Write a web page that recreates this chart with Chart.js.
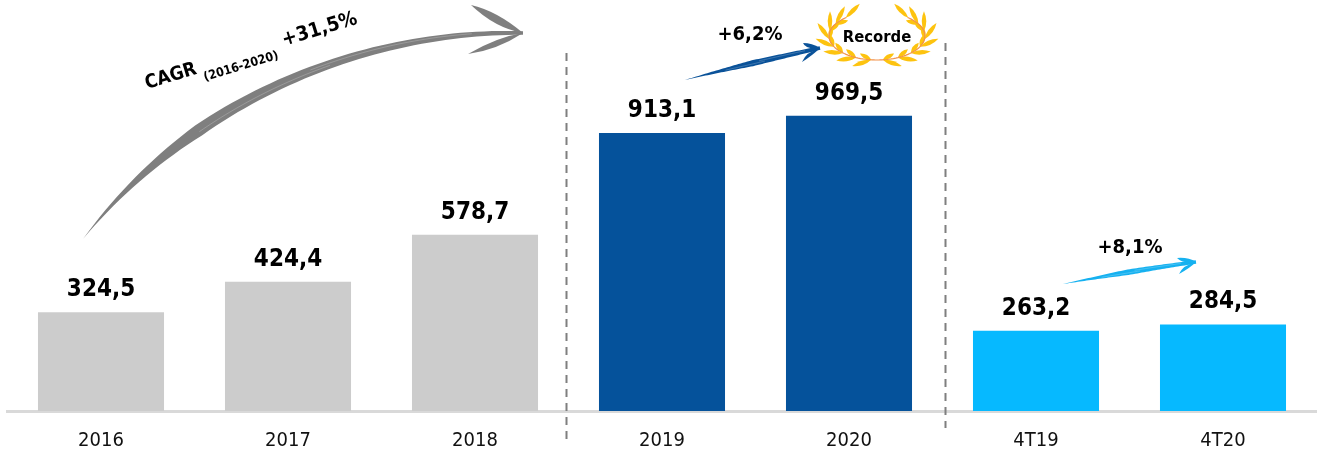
<!DOCTYPE html>
<html>
<head>
<meta charset="utf-8">
<style>
  html, body { margin: 0; padding: 0; background: #fff; }
  #wrap { width: 1320px; height: 455px; }
</style>
<script src="https://cdn.jsdelivr.net/npm/chart.js@4"></script>
</head>
<body>
<div id="wrap"><canvas id="chart" width="1320" height="455"></canvas></div>
<script>
var categories = ["2016", "2017", "2018", "2019", "2020", "4T19", "4T20"];
var values = [324.5, 424.4, 578.7, 913.1, 969.5, 263.2, 284.5];
var barColors = ["#cccccc", "#cccccc", "#cccccc", "#05529b", "#05529b", "#06b9ff", "#06b9ff"];

var labelFont = '"DejaVu Sans Condensed", "DejaVu Sans", sans-serif';

function fmt(v) {
  return v.toFixed(1).replace(".", ",");
}

// value labels above the bars
var valueLabels = {
  id: "valueLabels",
  afterDatasetsDraw: function (chart) {
    var ctx = chart.ctx;
    var bars = chart.getDatasetMeta(0).data;
    ctx.save();
    ctx.fillStyle = "#000";
    ctx.font = "bold 24px " + labelFont;
    ctx.textAlign = "center";
    ctx.textBaseline = "alphabetic";
    bars.forEach(function (bar, i) {
      ctx.fillText(fmt(values[i]), bar.x, bar.y - 16);
    });
    ctx.restore();
  },
};

// tapered brush stroke along a cubic curve, with light streaks
function brushArrow(ctx, p, w, peak, end, color, barbs) {
  function pt(t) {
    var u = 1 - t;
    return [
      u * u * u * p[0] + 3 * u * u * t * p[2] + 3 * u * t * t * p[4] + t * t * t * p[6],
      u * u * u * p[1] + 3 * u * u * t * p[3] + 3 * u * t * t * p[5] + t * t * t * p[7],
    ];
  }
  function hw(t) {
    if (t < peak) return w * (t / peak);
    return w * (1 - (1 - end) * ((t - peak) / (1 - peak)));
  }
  function offset(t, k) {
    var a = pt(Math.max(t - 0.01, 0)), b = pt(Math.min(t + 0.01, 1)), c = pt(t);
    var dx = b[0] - a[0], dy = b[1] - a[1], l = Math.hypot(dx, dy);
    return [c[0] - (dy / l) * k, c[1] + (dx / l) * k];
  }
  var n = 60, i;
  ctx.fillStyle = color;
  ctx.beginPath();
  for (i = 0; i <= n; i++) {
    var a = offset(i / n, hw(i / n));
    i ? ctx.lineTo(a[0], a[1]) : ctx.moveTo(a[0], a[1]);
  }
  for (i = n; i >= 0; i--) {
    var b = offset(i / n, -hw(i / n));
    ctx.lineTo(b[0], b[1]);
  }
  ctx.closePath();
  ctx.fill();

  // arrow head
  barbs.forEach(function (b) {
    ctx.beginPath();
    ctx.moveTo(p[6], p[7]);
    ctx.quadraticCurveTo(b[2], b[3], b[0], b[1]);
    ctx.quadraticCurveTo(b[4], b[5], p[6], p[7]);
    ctx.closePath();
    ctx.fill();
  });

  // streaks
  ctx.strokeStyle = "rgba(255,255,255,0.3)";
  ctx.lineWidth = 0.7;
  [[0.3, 0.6, 0.25], [0.55, 0.9, -0.3]].forEach(function (s) {
    ctx.beginPath();
    for (var t = s[0]; t <= s[1]; t += 0.01) {
      var o = offset(t, hw(t) * s[2]);
      t === s[0] ? ctx.moveTo(o[0], o[1]) : ctx.lineTo(o[0], o[1]);
    }
    ctx.stroke();
  });
}

function leaf(ctx, x, y, ang, len, wid) {
  ctx.save();
  ctx.translate(x, y);
  ctx.rotate(ang);
  ctx.beginPath();
  ctx.moveTo(0, 0);
  ctx.quadraticCurveTo(len * 0.5, -wid, len, 0);
  ctx.quadraticCurveTo(len * 0.5, wid, 0, 0);
  ctx.fill();
  ctx.restore();
}

// one half of the laurel, dir = 1 right side, -1 left side
function laurel(ctx, cx, cy, dir) {
  var rx = 48, ry = 24;
  ctx.fillStyle = "#fdc30f";
  for (var k = 0; k < 8; k++) {
    var s = 0.12 + k * 0.33;
    var lx = cx + dir * rx * Math.sin(s), ly = cy + ry * Math.cos(s);
    var tan = Math.atan2(-ry * Math.sin(s), dir * rx * Math.cos(s));
    leaf(ctx, lx, ly, tan + dir * 0.38, 20, 4.6);
    if (k < 7) leaf(ctx, lx, ly, tan - dir * 0.45, 13, 4.4);
  }
  ctx.strokeStyle = "#f2914a";
  ctx.lineWidth = 1.2;
  ctx.beginPath();
  for (var t = 0; t <= 2.45; t += 0.05) {
    var x = cx + dir * rx * Math.sin(t), y = cy + ry * Math.cos(t);
    t ? ctx.lineTo(x, y) : ctx.moveTo(x, y);
  }
  ctx.stroke();
}

// rotated label parts, all on one tilted line
function tiltedText(ctx, text, x, y, font) {
  ctx.save();
  ctx.translate(x, y);
  ctx.rotate(-0.295);
  ctx.textAlign = "left";
  ctx.font = font;
  ctx.fillText(text, 0, 0);
  ctx.restore();
}

// dashed separators, arrows, texts
var annotations = {
  id: "annotations",
  afterDatasetsDraw: function (chart) {
    var ctx = chart.ctx;
    var xs = chart.scales.x;
    ctx.save();

    ctx.strokeStyle = "#7f7f7f";
    ctx.lineWidth = 2;
    ctx.setLineDash([8, 6]);
    ctx.beginPath();
    ctx.moveTo(xs.getPixelForValue(2.5) - 2, 53);
    ctx.lineTo(xs.getPixelForValue(2.5) - 2, 439);
    ctx.moveTo(xs.getPixelForValue(4.5) + 3, 43);
    ctx.lineTo(xs.getPixelForValue(4.5) + 3, 428);
    ctx.stroke();
    ctx.setLineDash([]);

    brushArrow(ctx, [83, 239, 195, 95, 370, 30, 523, 33], 6, 0.3, 0.3, "#7f7f7f", [
      [471, 5, 497, 11, 495, 28],
      [468, 54, 497, 37, 497, 50],
    ]);
    brushArrow(ctx, [685, 80, 730, 68, 775, 58, 820, 48], 3, 0.5, 0.6, "#0a5299", [
      [803, 43, 812, 43, 806, 50],
      [802, 62, 806, 52, 813, 55],
    ]);
    brushArrow(ctx, [1063, 284, 1105, 276, 1150, 268, 1196, 262], 2.8, 0.5, 0.6, "#16b1f0", [
      [1177, 258, 1188, 257, 1183, 264],
      [1179, 274, 1183, 265, 1190, 268],
    ]);

    laurel(ctx, 877, 36, 1);
    laurel(ctx, 877, 36, -1);

    ctx.fillStyle = "#000";
    ctx.textBaseline = "alphabetic";
    ctx.textAlign = "center";
    ctx.font = "bold 20px " + labelFont;
    ctx.fillText("+6,2%", 750, 40);
    ctx.fillText("+8,1%", 1130, 253);
    ctx.font = "bold 16.5px " + labelFont;
    ctx.fillText("Recorde", 877, 42);

    tiltedText(ctx, "CAGR", 147, 89, "bold 19px " + labelFont);
    tiltedText(ctx, "(2016-2020)", 205, 81, "bold 12.5px " + labelFont);
    tiltedText(ctx, "+31,5%", 284, 46, "bold 20px " + labelFont);

    ctx.restore();
  },
};

new Chart(document.getElementById("chart"), {
  type: "bar",
  data: {
    labels: categories,
    datasets: [
      {
        data: values,
        backgroundColor: barColors,
        categoryPercentage: 1,
        barPercentage: 0.674,
        borderWidth: 0,
      },
    ],
  },
  options: {
    responsive: false,
    animation: false,
    layout: { padding: { left: 7.5, right: 3.5, top: 0, bottom: 0 } },
    plugins: { legend: { display: false }, tooltip: { enabled: false } },
    scales: {
      x: {
        afterFit: function (scale) {
          scale.height = 44;
        },
        grid: { display: false, drawTicks: false },
        border: { color: "#d9d9d9", width: 3 },
        ticks: {
          color: "#111",
          padding: 18,
          font: { family: labelFont, size: 20 },
          maxRotation: 0,
        },
      },
      y: {
        display: false,
        min: 0,
        max: 1350,
      },
    },
  },
  plugins: [valueLabels, annotations],
});
</script>
</body>
</html>
